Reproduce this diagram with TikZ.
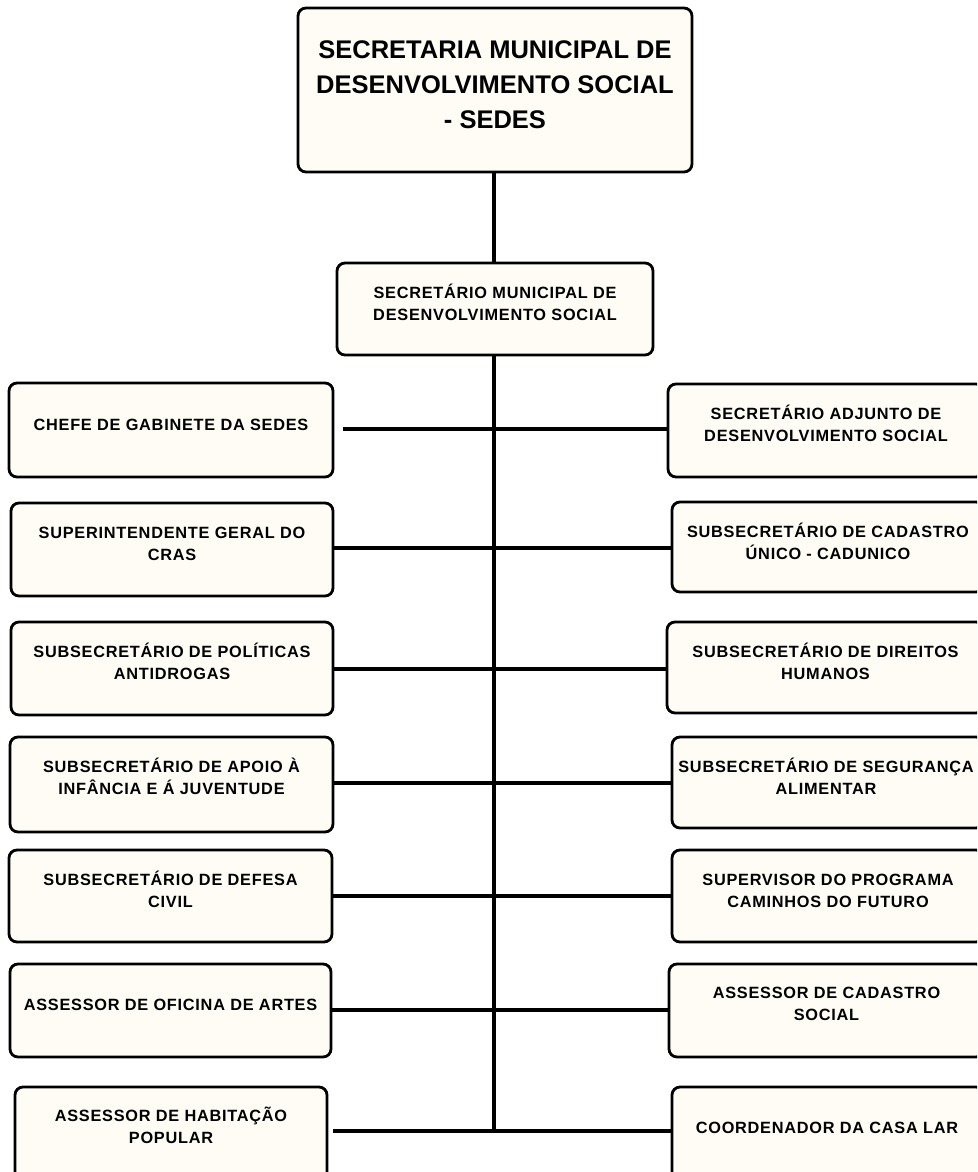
\documentclass[tikz,border=0pt]{standalone}
\usepackage{fontspec}
\setmainfont{Liberation Sans}
\newfontfamily\smfont[LetterSpace=4.6]{Liberation Sans}
\definecolor{cream}{RGB}{254,252,245}
\begin{document}
\begin{tikzpicture}[x=1pt,y=-1pt,
  box/.style={draw=black, fill=cream, line width=2.8pt, rounded corners=8pt, inner sep=0pt},
  lbl/.style={anchor=north, align=center, inner sep=0pt, font=\smfont\bfseries\fontsize{16.3}{22}\selectfont},
  big/.style={anchor=north, align=center, inner sep=0pt, font=\bfseries\fontsize{25.5}{35}\selectfont},
  conn/.style={line width=4.5pt}]
\useasboundingbox (0,0) rectangle (977,1172);
\clip (0,0) rectangle (977,1172);
% top boxes
\node[box, minimum width=394pt, minimum height=164pt] (top) at (495,90) {};
\node[big] (ttop) at (495,33) {\rule{0pt}{25pt}SECRETARIA MUNICIPAL DE\\DESENVOLVIMENTO SOCIAL\\- SEDES};
\node[box, minimum width=316pt, minimum height=92pt] (mid) at (495,309) {};
\node[lbl] (tmid) at (495,283.5) {\rule{0pt}{15pt}SECRETÁRIO MUNICIPAL DE\\DESENVOLVIMENTO SOCIAL};
% left boxes
\node[box, minimum width=324pt, minimum height=94pt] (l1) at (171,430) {};
\node[lbl] (tl1) at (171,415.5) {\rule{0pt}{15pt}CHEFE DE GABINETE DA SEDES};
\node[box, minimum width=322pt, minimum height=93pt] (l2) at (172,549.5) {};
\node[lbl] (tl2) at (172,523.5) {\rule{0pt}{15pt}SUPERINTENDENTE GERAL DO\\CRAS};
\node[box, minimum width=322pt, minimum height=93pt] (l3) at (172,668.5) {};
\node[lbl] (tl3) at (172,642.5) {\rule{0pt}{15pt}SUBSECRETÁRIO DE POLÍTICAS\\ANTIDROGAS};
\node[box, minimum width=323pt, minimum height=95pt] (l4) at (171.5,784.5) {};
\node[lbl] (tl4) at (171.5,757) {\rule{0pt}{15pt}SUBSECRETÁRIO DE APOIO À\\INFÂNCIA E Á JUVENTUDE};
\node[box, minimum width=323pt, minimum height=92pt] (l5) at (170.5,896) {};
\node[lbl] (tl5) at (170.5,870.5) {\rule{0pt}{15pt}SUBSECRETÁRIO DE DEFESA\\CIVIL};
\node[box, minimum width=321pt, minimum height=93pt] (l6) at (170.5,1010.5) {};
\node[lbl] (tl6) at (170.5,995.5) {\rule{0pt}{15pt}ASSESSOR DE OFICINA DE ARTES};
\node[box, minimum width=312pt, minimum height=113pt] (l7) at (171,1143.5) {};
\node[lbl] (tl7) at (171,1106) {\rule{0pt}{15pt}ASSESSOR DE HABITAÇÃO\\POPULAR};
% right boxes
\node[box, minimum width=316pt, minimum height=93pt] (r1) at (826,430.5) {};
\node[lbl] (tr1) at (826,404.5) {\rule{0pt}{15pt}SECRETÁRIO ADJUNTO DE\\DESENVOLVIMENTO SOCIAL};
\node[box, minimum width=312pt, minimum height=90pt] (r2) at (828,547) {};
\node[lbl] (tr2) at (828,522.5) {\rule{0pt}{15pt}SUBSECRETÁRIO DE CADASTRO\\ÚNICO - CADUNICO};
\node[box, minimum width=317pt, minimum height=91pt] (r3) at (825.5,667.5) {};
\node[lbl] (tr3) at (825.5,642.5) {\rule{0pt}{15pt}SUBSECRETÁRIO DE DIREITOS\\HUMANOS};
\node[box, minimum width=312pt, minimum height=91pt] (r4) at (828,782.5) {};
\node[lbl] (tr4) at (826,757) {\rule{0pt}{15pt}SUBSECRETÁRIO DE SEGURANÇA\\ALIMENTAR};
\node[box, minimum width=312pt, minimum height=92pt] (r5) at (828,896) {};
\node[lbl] (tr5) at (828,870.5) {\rule{0pt}{15pt}SUPERVISOR DO PROGRAMA\\CAMINHOS DO FUTURO};
\node[box, minimum width=315pt, minimum height=93pt] (r6) at (826.5,1010.5) {};
\node[lbl] (tr6) at (826.5,983.5) {\rule{0pt}{15pt}ASSESSOR DE CADASTRO\\SOCIAL};
\node[box, minimum width=312pt, minimum height=113pt] (r7) at (828,1143.5) {};
\node[lbl] (tr7) at (827,1118.5) {\rule{0pt}{15pt}COORDENADOR DA CASA LAR};
% spine coordinates
\coordinate (s1) at (494,429);
\coordinate (s2) at (494,548);
\coordinate (s3) at (494,669);
\coordinate (s4) at (494,783);
\coordinate (s5) at (494,896);
\coordinate (s6) at (494,1010);
\coordinate (s7) at (494,1131);
\coordinate (c1) at (343,429);
\coordinate (c7) at (333,1131);
% connectors
\draw[conn] (top.south -| s1) -- (mid.north -| s1);
\draw[conn] (mid.south -| s1) -- (s7);
\draw[conn] (c1) -- (s1) -- (r1.west |- s1);
\draw[conn] (l2.east |- s2) -- (s2) -- (r2.west |- s2);
\draw[conn] (l3.east |- s3) -- (s3) -- (r3.west |- s3);
\draw[conn] (l4.east |- s4) -- (s4) -- (r4.west |- s4);
\draw[conn] (l5.east |- s5) -- (s5) -- (r5.west |- s5);
\draw[conn] (l6.east |- s6) -- (s6) -- (r6.west |- s6);
\draw[conn] (c7) -- (s7) -- (r7.west |- s7);
\end{tikzpicture}
\end{document}
